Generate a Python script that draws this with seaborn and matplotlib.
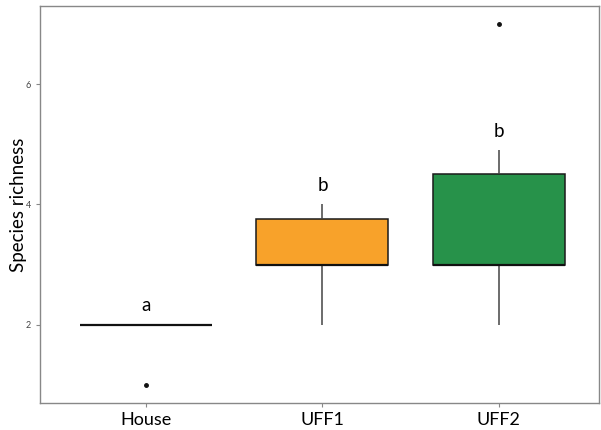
import numpy as np
import pandas as pd
import seaborn as sns
import matplotlib
matplotlib.use('Agg')
import matplotlib.pyplot as plt

# species richness per sample
house = [2, 2, 2, 2, 2, 2, 1]
uff1 = [2, 3, 3, 3, 4, 4]
uff2 = [2, 3, 3, 3, 4.1, 4.9, 7]
sites = ['House', 'UFF1', 'UFF2']
letters = ['a', 'b', 'b']
fills = ['white', '#F8A22A', '#27924A']

df = pd.DataFrame({
    'site': ['House'] * len(house) + ['UFF1'] * len(uff1) + ['UFF2'] * len(uff2),
    'richness': house + uff1 + uff2,
})

sns.set_style('white')
plt.rcParams['font.family'] = ['Lato', 'DejaVu Sans']
plt.rcParams['text.color'] = 'black'
plt.rcParams['axes.labelcolor'] = 'black'

fig, ax = plt.subplots(figsize=(6.01, 4.30), dpi=100)
fig.subplots_adjust(left=0.067, right=0.997, top=0.986, bottom=0.063)

sns.boxplot(data=df, x='site', y='richness', order=sites, hue='site',
            palette=dict(zip(sites, fills)), saturation=1, width=0.75,
            linecolor='#1a1a1a', linewidth=1.1, showcaps=False, legend=False, ax=ax,
            medianprops={'linewidth': 1.6, 'color': '#111111'},
            whiskerprops={'color': '#444444'},
            flierprops={'marker': 'o', 'markersize': 2.5,
                        'markerfacecolor': '#111111', 'markeredgecolor': '#111111'})

# significance letters just above the upper whisker
for i, (site, lab) in enumerate(zip(sites, letters)):
    vals = np.array(df.loc[df.site == site, 'richness'])
    q1, q3 = np.percentile(vals, [25, 75])
    top = vals[vals <= q3 + 1.5 * (q3 - q1)].max()
    ax.text(i, top + 0.18, lab, ha='center', va='bottom', fontsize=13.5)

ax.set_xlim(-0.6, 2.57)
ax.set_ylim(0.7, 7.3)
ax.set_yticks([2, 4, 6])
ax.set_xlabel('')
ax.set_ylabel('Species richness', fontsize=13.5, labelpad=-1)
ax.tick_params(axis='y', labelsize=6.5, labelcolor='#444444', length=3,
               color='#888888', left=True)
ax.tick_params(axis='x', labelsize=13, labelcolor='black', length=3,
               color='#888888', bottom=True)
for s in ax.spines.values():
    s.set_color('#888888')
    s.set_linewidth(1)

plt.savefig('out.png', dpi=100)
